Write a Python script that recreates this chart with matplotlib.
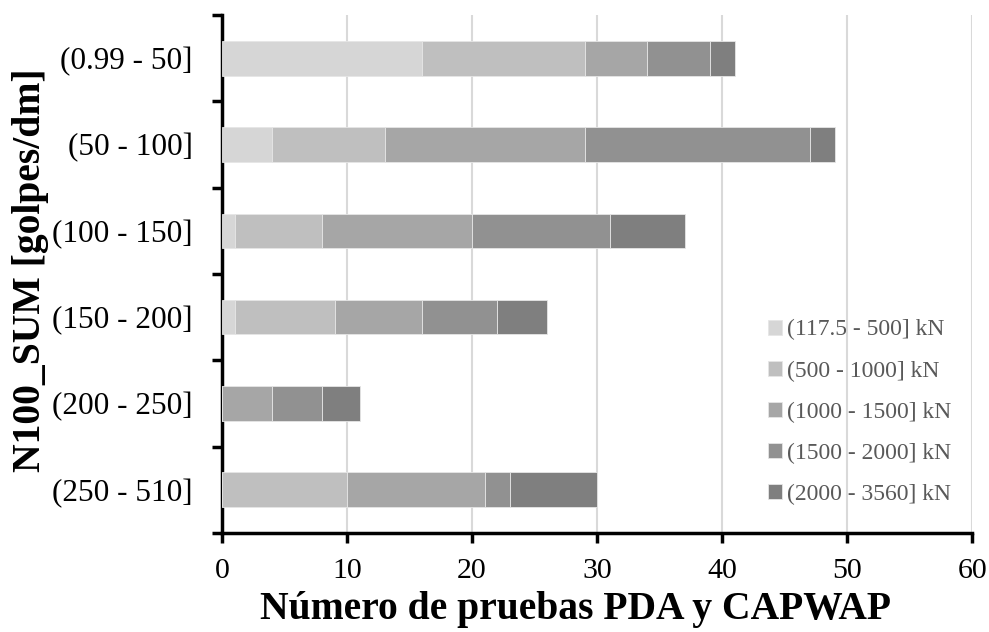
import matplotlib.pyplot as plt
import numpy as np

plt.rcParams['font.family'] = ['Liberation Serif', 'DejaVu Serif']

categories = ["(0.99 - 50]", "(50 - 100]", "(100 - 150]",
              "(150 - 200]", "(200 - 250]", "(250 - 510]"]
series_labels = ["(117.5 - 500] kN", "(500 - 1000] kN", "(1000 - 1500] kN",
                 "(1500 - 2000] kN", "(2000 - 3560] kN"]
# counts per load class, one list per series (same order as categories)
s_117_500 = [16, 4, 1, 1, 0, 0]
s_500_1000 = [13, 9, 7, 8, 0, 10]
s_1000_1500 = [5, 16, 12, 7, 4, 11]
s_1500_2000 = [5, 18, 11, 6, 4, 2]
s_2000_3560 = [2, 2, 6, 4, 3, 7]
colors = ["#d6d6d6", "#bfbfbf", "#a6a6a6", "#919191", "#7f7f7f"]

series = [s_117_500, s_500_1000, s_1000_1500, s_1500_2000, s_2000_3560]

fig, ax = plt.subplots(figsize=(9.89, 6.32), dpi=100)
fig.subplots_adjust(left=0.2245, right=0.983, top=0.976, bottom=0.157)

y = np.arange(len(categories))
left = np.zeros(len(categories))
for vals, lab, col in zip(series, series_labels, colors):
    vals = np.array(vals, dtype=float)
    ax.barh(y, vals, left=left, height=0.4, color=col, label=lab,
            edgecolor="#e6e6e6", linewidth=0.6, zorder=3)
    left += vals

ax.set_xlim(0, 60)
ax.set_ylim(len(categories) - 0.5, -0.5)
ax.set_xticks(np.arange(0, 61, 10))
ax.set_yticks(y)
ax.set_yticklabels(categories)
ax.set_yticks(np.arange(-0.5, len(categories)), minor=True)
ax.tick_params(axis='y', which='major', length=0, pad=21, labelsize=22.5)
ax.tick_params(axis='y', which='minor', length=7, width=2.5, direction='out')
ax.tick_params(axis='x', which='major', length=7, width=2.5, direction='out',
               labelsize=21.5, pad=11)

ax.grid(axis='x', color="#d9d9d9", linewidth=1.5, zorder=0)
ax.set_axisbelow(True)
for side in ['top', 'right']:
    ax.spines[side].set_visible(False)
for side in ['left', 'bottom']:
    ax.spines[side].set_linewidth(2.5)

ax.set_xlabel("Número de pruebas PDA y CAPWAP", fontsize=28.5,
              fontweight='bold')
ax.set_ylabel("N100_SUM [golpes/dm]", fontsize=28.5, fontweight='bold')
ax.xaxis.set_label_coords(0.471, -0.112)
ax.yaxis.set_label_coords(-0.231, 0.508)

leg = ax.legend(loc='lower right', bbox_to_anchor=(1.0, 0.012), frameon=False,
                fontsize=17, handlelength=0.6, handleheight=0.6,
                handletextpad=0.2, labelspacing=0.85, labelcolor="#595959")

plt.savefig("out.png", dpi=100)
